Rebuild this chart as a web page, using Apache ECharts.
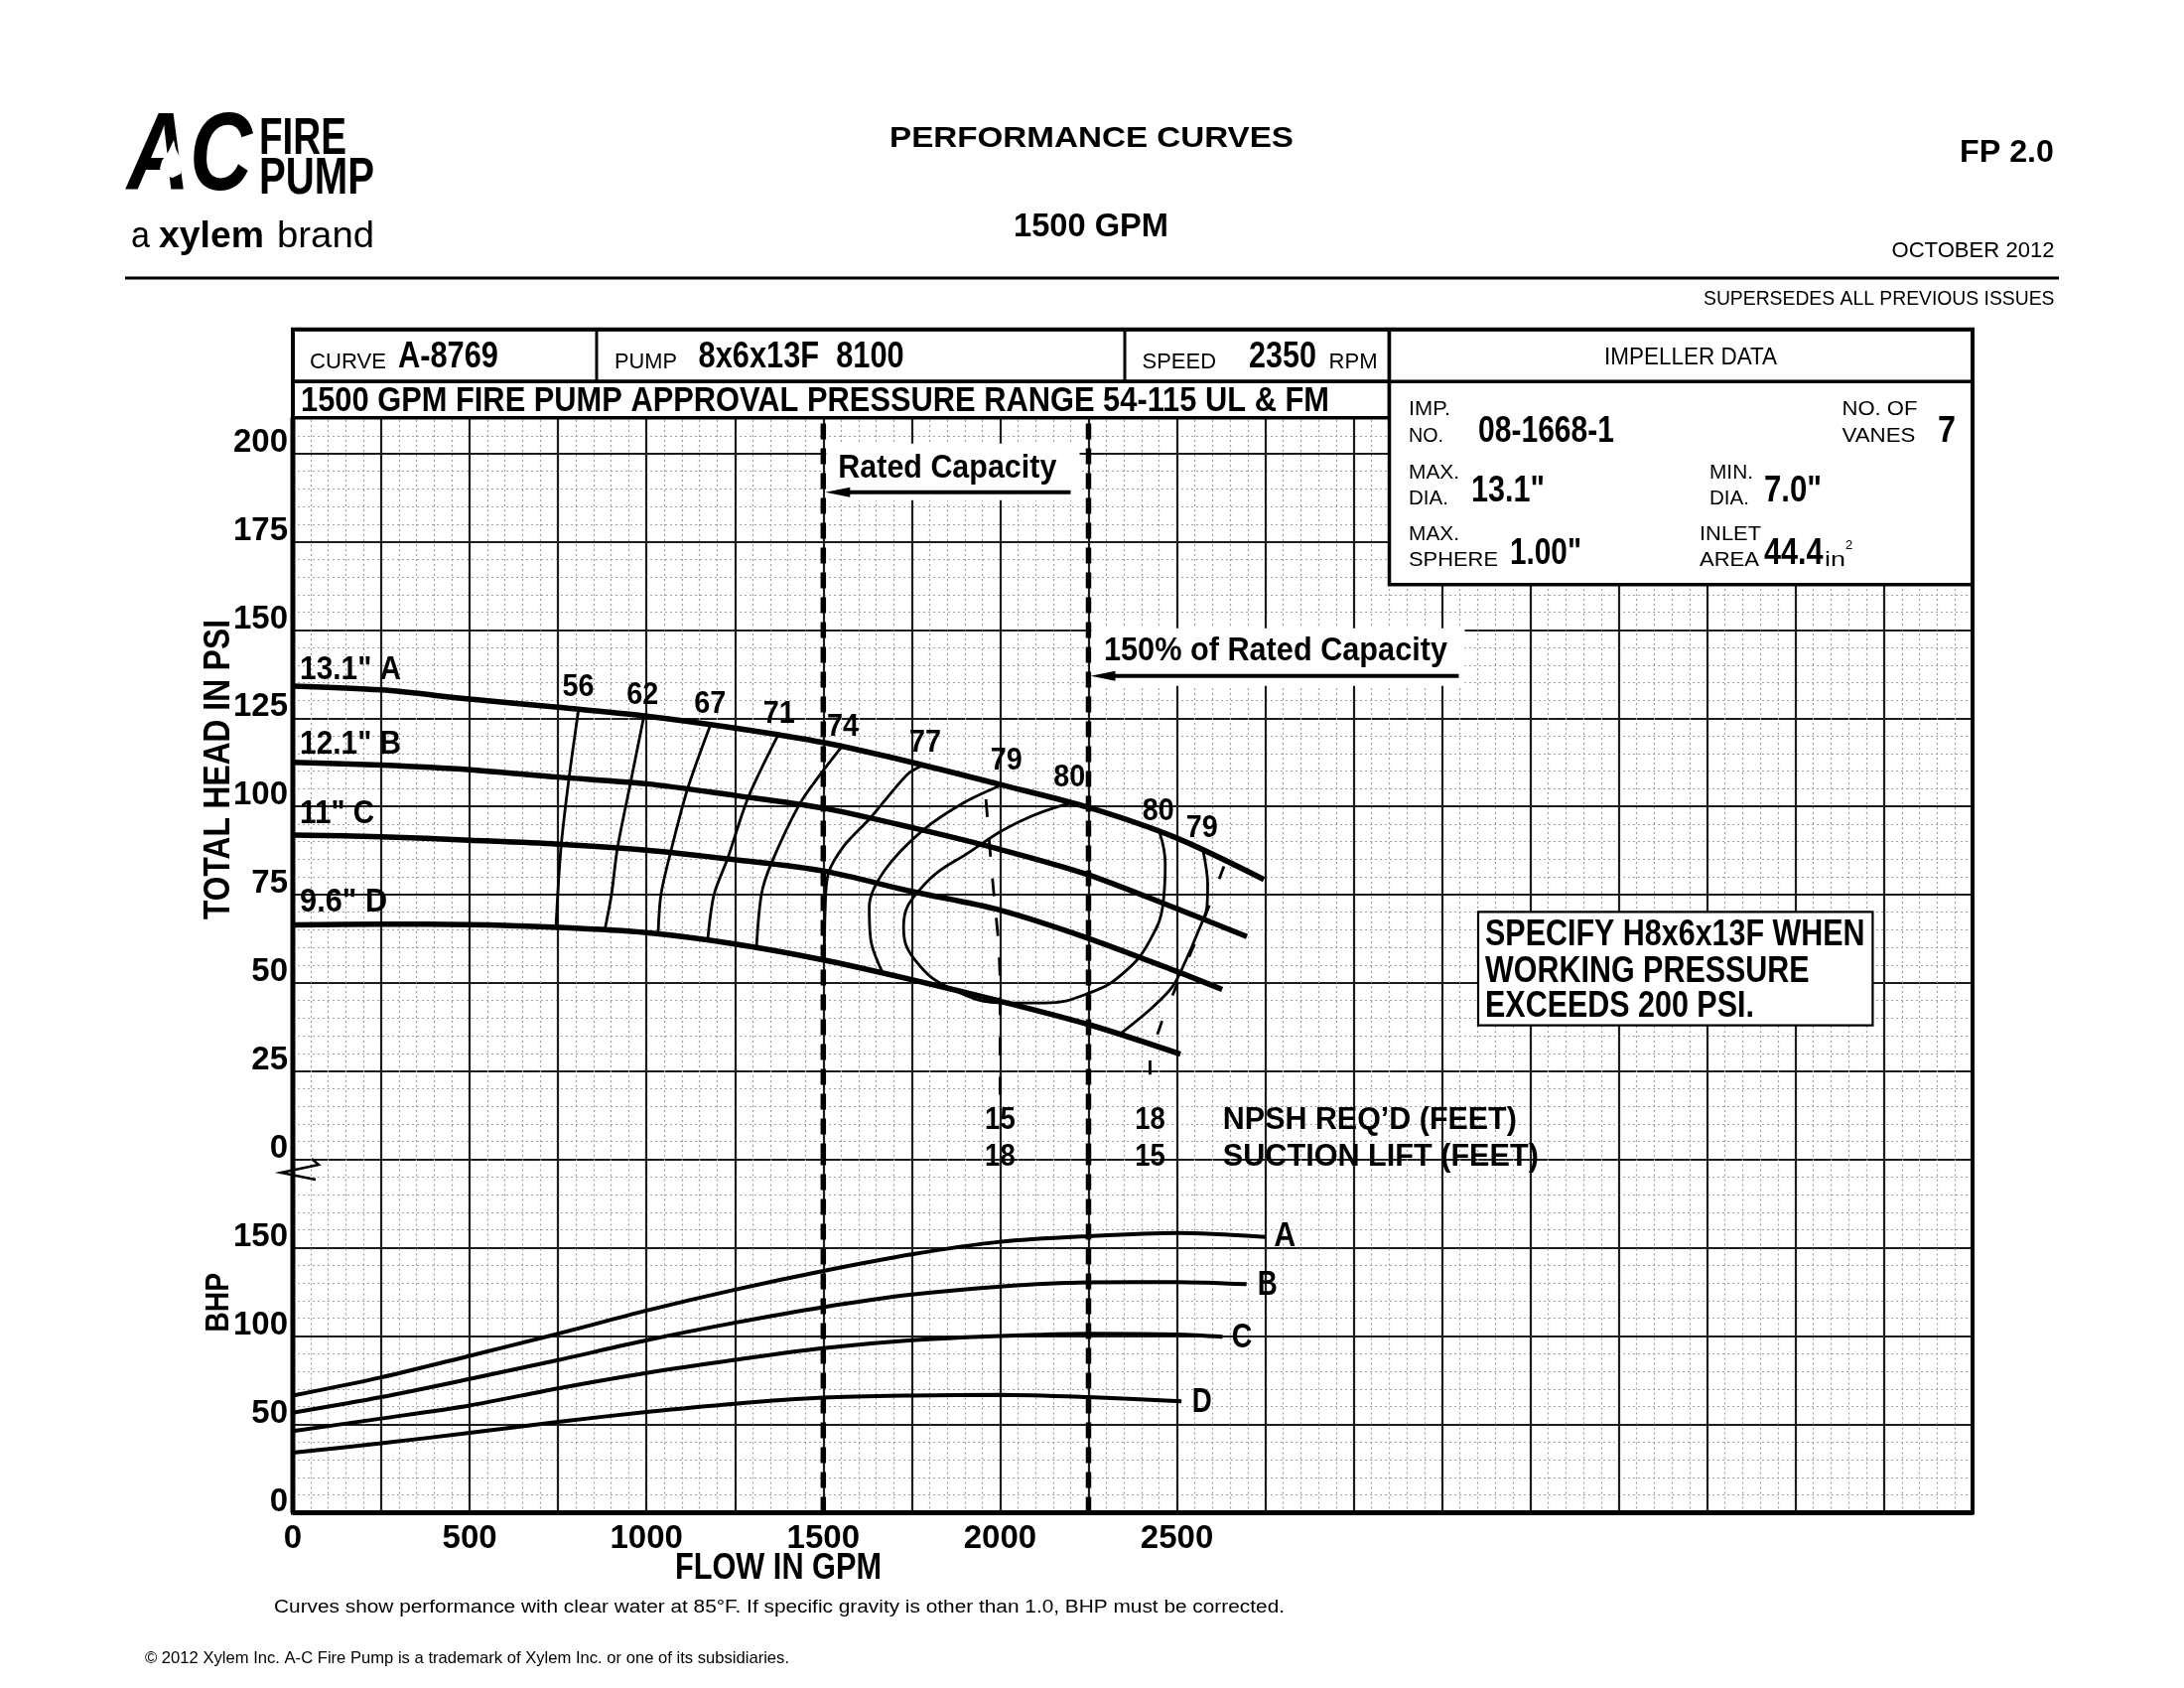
<!DOCTYPE html>
<html><head><meta charset="utf-8">
<script src="https://cdn.jsdelivr.net/npm/echarts@6/dist/echarts.min.js"></script>
<style>html,body{margin:0;padding:0;background:#fff}#c{width:2200px;height:1700px}</style>
</head><body><div id="c"></div>
<script>
// ---------------- data ----------------
const flowLabels = [0, 500, 1000, 1500, 2000, 2500];
const headLabels = [0, 25, 50, 75, 100, 125, 150, 175, 200];
const bhpLabels = [0, 50, 100, 150];

// total head (psi) vs flow (gpm) for impeller diameters
const headA = [[0,134.1],[250,133.0],[500,130.4],[750,128.1],[1000,125.6],[1250,122.2],[1500,118.1],[1750,112.5],[2000,106.2],[2250,99.7],[2500,91.0],[2746,79.3]];
const headB = [[0,112.5],[250,111.7],[500,110.4],[750,108.3],[1000,106.4],[1250,103.1],[1500,99.5],[1750,94.0],[2000,87.8],[2250,80.6],[2500,71.0],[2698,63.1]];
const headC = [[0,91.9],[250,91.4],[500,90.4],[750,89.3],[1000,87.6],[1250,84.9],[1500,81.7],[1750,75.9],[2000,70.6],[2250,62.6],[2500,53.2],[2628,48.1]];
const headD = [[0,66.4],[250,66.6],[500,66.5],[750,65.7],[1000,64.2],[1250,61.0],[1500,56.5],[1750,50.9],[2000,44.8],[2250,38.2],[2510,29.8]];

// iso-efficiency lines (gpm, psi)
const eff56 = [[808,127.5],[781,108.1],[759,89.2],[749,75],[744,65.7]];
const eff62 = [[993,125.7],[955,106.7],[918,88.2],[901,75],[882,64.9]];
const eff67 = [[1181,123.1],[1116,104.9],[1068,86.9],[1041,75],[1033,63.8]];
const eff71 = [[1372,120.2],[1288,102.6],[1229,85.1],[1191,75],[1173,62.0]];
const eff74 = [[1552,116.9],[1491,109],[1432,100.5],[1352,83.6],[1325,75],[1311,59.9]];
const eff77 = [[1783,111.7],[1737,109],[1632,96.6],[1560,89],[1514,80.9],[1505,70],[1503,56.7]];
const eff79L = [[2005,106.1],[1898,101.1],[1780,93.1],[1673,81.8],[1630,71.5],[1636,61.2],[1668,52.8]];
const eff80 = [[2200,101.0],[2059,95.9],[1920,87.5],[1780,77.2],[1727,65.9],[1759,56.5],[1866,48.1],[2017,44.3],[2124,44.3],[2252,47.1],[2349,52.8],[2424,62.1],[2462,73.4],[2467,83.7],[2451,92.6]];
const eff79R = [[2574,87.5],[2587,78.1],[2585,71.5],[2558,64.0],[2526,56.5],[2488,49.0],[2424,42.4],[2338,35.4]];

// NPSH required dashed lines
const npsh15 = [[1960,102],[1973,85.6],[1984,73.4],[1995,62],[2000,50],[2000,18]];
const npsh18 = [[2633,83],[2553,61.8],[2494,48],[2461,40],[2440,34],[2424,30],[2424,18]];
const npshLabels = [[2000,'15','18'],[2424,'18','15']];

// brake horsepower vs flow
const bhpA = [[0,66.3],[250,76.6],[500,88.8],[750,101.3],[1000,114.4],[1250,126.2],[1500,136.8],[1750,146.2],[2000,153.3],[2250,156.5],[2500,158.3],[2750,156.1]];
const bhpB = [[0,56.6],[250,65.4],[500,75.7],[750,86.4],[1000,97.6],[1250,107.5],[1500,116.3],[1750,123.4],[2000,128.0],[2250,130.3],[2500,130.5],[2697,129.3]];
const bhpC = [[0,46.2],[250,53.3],[500,60.7],[750,70.4],[1000,79.1],[1250,86.5],[1500,93.1],[1750,97.6],[2000,100.0],[2250,101.3],[2500,100.9],[2629,99.6]];
const bhpD = [[0,34.0],[250,39.3],[500,45.2],[750,51.4],[1000,57.0],[1250,61.7],[1500,65.1],[1750,66.3],[2000,66.7],[2250,65.4],[2513,63.1]];

const ratedFlow = 1500, flow150 = 2250;

// label anchors in data coordinates
const effLabels = [['56',807,133.8],['62',989,131.5],['67',1180,129],['71',1375,126.2],['74',1555,122.4],['77',1788,118],['79',2018,112.8],['80',2196,108.1],['80',2447,98.5],['79',2571,93.6]];
const headCurveLabels = [['13.1" A',20,138.6,102],['12.1" B',20,117.5,102],['11" C',20,97.8,75],['9.6" D',20,72.7,88]];
const bhpCurveLabels = [['A',2774,156,22],['B',2728,129,20],['C',2655,99,20.5],['D',2543,62.6,20]];

// ---------------- fonts ----------------
const mctx = document.createElement('canvas').getContext('2d');
function mw(t, f){ mctx.font = f; return mctx.measureText(t).width; }
const hasNarrow = mw('0000 ABCD','bold 40px "Liberation Sans Narrow", monospace') !== mw('0000 ABCD','bold 40px monospace');
const SANS = '"Liberation Sans", Arial, Helvetica, sans-serif';
const NARROW = hasNarrow ? '"Liberation Sans Narrow", "Liberation Sans", sans-serif' : SANS;
const TICKSIZE = hasNarrow ? 35 : 33;

function T(str, x, y, o) {
  o = o || {};
  const size = o.size || 30, weight = o.bold ? 'bold' : 'normal', fs = o.italic ? 'italic' : 'normal';
  const fam = o.fam || (o.bold ? NARROW : SANS);
  let sx = 1;
  if (o.w) sx = o.w / mw(str, fs + ' ' + weight + ' ' + size + 'px ' + fam);
  const al = o.align || 'left', va = o.va || 'middle';
  return {type:'text', x:x, y:y, rotation:o.rot || 0, scaleX:sx, z:120, silent:true,
    style:{text:str, x:0, y:0, fill:'#000', fontSize:size, fontWeight:weight, fontStyle:fs, fontFamily:fam,
      align:al, verticalAlign:va, textAlign:al, textVerticalAlign:va}};
}
function R(x, y, w, h, lw, fill) {
  return {type:'rect', z:110, silent:true, shape:{x:x, y:y, width:w, height:h},
    style:{fill:fill || 'none', stroke: lw ? '#000' : 'none', lineWidth: lw || 0}};
}
function L(x1, y1, x2, y2, lw) {
  return {type:'line', z:115, silent:true, shape:{x1:x1, y1:y1, x2:x2, y2:y2}, style:{stroke:'#000', lineWidth:lw}};
}

// ---------------- chart ----------------
const chart = echarts.init(document.getElementById('c'), null, {renderer:'canvas'});

const X0 = 295, XW = 1692;
const gridLine = {show:true, lineStyle:{color:'#1c1c1c', width:2.2}};
const minorLine = {show:true, lineStyle:{color:'#a0a0a0', width:1.2, type:[2,3]}};
const tickFont = {fontSize:TICKSIZE, fontWeight:'bold', fontFamily:NARROW, color:'#000'};

function xAx(gi, showLabel) {
  return {type:'value', gridIndex:gi, min:0, max:4750, interval:250,
    axisLine:{show:false}, axisTick:{show:false},
    splitLine:gridLine, minorTick:{show:false, splitNumber:5}, minorSplitLine:minorLine,
    axisLabel: showLabel ? Object.assign({show:true, margin:10,
      formatter: v => flowLabels.indexOf(v) >= 0 ? String(v) : ''}, tickFont) : {show:false}};
}
function yAx(gi, max, interval, labels) {
  return {type:'value', gridIndex:gi, min:0, max:max, interval:interval,
    axisLine:{show:false}, axisTick:{show:false},
    splitLine:gridLine, minorTick:{show:false, splitNumber:5}, minorSplitLine:minorLine,
    axisLabel: Object.assign({show:true, margin:5, verticalAlign:'bottom', lineHeight:22,
      showMaxLabel:false,
      formatter: v => labels.indexOf(v) >= 0 ? String(v) : ''}, tickFont)};
}

function ln(data, gi, w, opt) {
  opt = opt || {};
  return {type:'line', xAxisIndex:gi, yAxisIndex:gi, data:data, showSymbol:false, symbol:'none',
    smooth: opt.smooth === undefined ? 0.3 : opt.smooth, silent:true, z: opt.z || 5,
    lineStyle:{color:'#000', width:w, type: opt.type || 'solid', cap:'butt'}};
}

const series = [
  ln(headA,0,5.5), ln(headB,0,5.5), ln(headC,0,5.5), ln(headD,0,5.5),
  ln(eff56,0,2.8), ln(eff62,0,2.8), ln(eff67,0,2.8), ln(eff71,0,2.8), ln(eff74,0,2.8),
  ln(eff77,0,2.8), ln(eff79L,0,2.8), ln(eff80,0,2.8,{smooth:0.45}), ln(eff79R,0,2.8),
  ln(npsh15,0,2.8,{type:[18,22],smooth:0.2}), ln(npsh18,0,2.8,{type:[14,28],smooth:0.2}),
  ln([[ratedFlow,0],[ratedFlow,210]],0,5.5,{type:[16,9],smooth:false,z:6}),
  ln([[flow150,0],[flow150,210]],0,5.5,{type:[16,9],smooth:false,z:6}),
  ln([[ratedFlow,0],[ratedFlow,200]],1,5.5,{type:[16,9],smooth:false,z:6}),
  ln([[flow150,0],[flow150,200]],1,5.5,{type:[16,9],smooth:false,z:6}),
  ln(bhpA,1,4), ln(bhpB,1,4), ln(bhpC,1,4), ln(bhpD,1,4)
];

chart.setOption({
  animation:false,
  backgroundColor:'#fff',
  grid:[
    {left:X0, top:367.9, width:XW, height:799.6, outerBoundsMode:'none', containLabel:false},
    {left:X0, top:1167.5, width:XW, height:356, outerBoundsMode:'none', containLabel:false}
  ],
  xAxis:[xAx(0,false), xAx(1,true)],
  yAxis:[yAx(0,225,25,headLabels), yAx(1,200,50,bhpLabels)],
  series:series
});

// ---------------- annotations ----------------
const px = (g, p) => chart.convertToPixel({gridIndex:g}, p);
const G = [];

// page header
G.push(T('AC', 128, 160, {size:112, bold:true, italic:true, fam:SANS, w:126}));
G.push({type:'polygon', z:125, silent:true, shape:{points:[[175,141],[170,152],[163,162],[161,170],[165,177],[174,179],[182,175],[184,167],[181,158],[177,150]]}, style:{fill:'#fff'}});
G.push(T('FIRE', 261, 140.3, {size:52, bold:true, w:88}));
G.push(T('PUMP', 261, 181, {size:52, bold:true, w:116}));
G.push(T('a', 132, 239.5, {size:36, fam:SANS, w:19}));
G.push(T('xylem', 160, 239.5, {size:36, bold:true, fam:SANS, w:106}));
G.push(T('brand', 279, 239.5, {size:36, fam:SANS, w:98}));
G.push(T('PERFORMANCE CURVES', 1099.5, 140, {size:30, bold:true, fam:SANS, w:407, align:'center'}));
G.push(T('1500 GPM', 1099, 228.7, {size:33, bold:true, fam:SANS, w:156, align:'center'}));
G.push(T('FP 2.0', 2069, 154.5, {size:31, bold:true, fam:SANS, w:95, align:'right'}));
G.push(T('OCTOBER 2012', 2069.5, 252.5, {size:22, w:164, align:'right'}));
G.push(L(126, 280, 2074, 280, 3));
G.push(T('SUPERSEDES ALL PREVIOUS ISSUES', 2069.5, 301, {size:21, w:353.5, align:'right'}));

// chart header boxes
G.push(R(X0, 331.7, 1104.5, 52.6, 3.5, '#fff'));
G.push(R(X0, 384.3, 1104.5, 36.4, 3.5, '#fff'));
G.push(R(1399.5, 331.7, 587.5, 257, 3.5, '#fff'));
G.push(L(1399.5, 384.3, 1987, 384.3, 3.5));
G.push(L(601, 331.7, 601, 384.3, 3));
G.push(L(1133, 331.7, 1133, 384.3, 3));
G.push(T('CURVE', 312, 365, {size:22, w:77}));
G.push(T('A-8769', 401, 360, {size:36, bold:true, w:101}));
G.push(T('PUMP', 619, 365, {size:22, w:63}));
G.push(T('8x6x13F  8100', 703.6, 360, {size:36, bold:true, w:207}));
G.push(T('SPEED', 1150.5, 365, {size:22, w:74.5}));
G.push(T('2350', 1258, 360, {size:36, bold:true, w:68}));
G.push(T('RPM', 1338.5, 365, {size:22, w:49}));
G.push(T('IMPELLER DATA', 1703, 360.7, {size:23, w:174, align:'center'}));
G.push(T('1500 GPM FIRE PUMP APPROVAL PRESSURE RANGE 54-115 UL & FM', 303, 404, {size:35, bold:true, w:1036}));
// impeller data
G.push(T('IMP.', 1419, 412.5, {size:21, w:42}));
G.push(T('NO.', 1419, 439.5, {size:21, w:35}));
G.push(T('08-1668-1', 1489, 435, {size:36, bold:true, w:137}));
G.push(T('NO. OF', 1855.5, 412.5, {size:21, w:76}));
G.push(T('VANES', 1855.5, 439.5, {size:21, w:74}));
G.push(T('7', 1952, 435, {size:36, bold:true, w:18}));
G.push(T('MAX.', 1419, 476, {size:21, w:51}));
G.push(T('DIA.', 1419, 502.5, {size:21, w:40}));
G.push(T('13.1"', 1482, 495, {size:36, bold:true, w:74}));
G.push(T('MIN.', 1722, 476, {size:21, w:44}));
G.push(T('DIA.', 1722, 502.5, {size:21, w:40}));
G.push(T('7.0"', 1777, 495, {size:36, bold:true, w:58}));
G.push(T('MAX.', 1419, 538, {size:21, w:51}));
G.push(T('SPHERE', 1419, 564, {size:21, w:90}));
G.push(T('1.00"', 1521, 557.6, {size:36, bold:true, w:72}));
G.push(T('INLET', 1712, 538, {size:21, w:62}));
G.push(T('AREA', 1712, 564, {size:21, w:60}));
G.push(T('44.4', 1777, 557.6, {size:36, bold:true, w:59.6}));
G.push(T('in', 1838, 564, {size:20, w:21}));
G.push(T('2', 1859, 549, {size:13}));

// outer plot border
G.push(R(X0, 331.7, XW, 1191.8, 4));
G.push(L(X0, 1523.5, X0 + XW, 1523.5, 5));
G.push(L(X0, 420.7, X0, 1523.5, 5));
// axis break mark
G.push({type:'polyline', z:115, silent:true, shape:{points:[[314,1167],[321,1173],[283,1181],[318,1188]]}, style:{stroke:'#000', lineWidth:2.5, fill:'none'}});

// rated capacity annotation
const rc = px(0, [ratedFlow, 189]);
const rc2 = px(0, [flow150, 189]);
G.push(R(rc[0] + 3, rc[1] - 49, rc2[0] - rc[0] - 12, 57, 0, '#fff'));
G.push(T('Rated Capacity', rc[0] + 15, rc[1] - 24, {size:33, bold:true, w:220}));
G.push(L(rc[0] + 20, rc[1], rc2[0] - 18, rc[1], 4));
G.push({type:'polygon', z:116, silent:true, shape:{points:[[rc[0] + 2, rc[1]],[rc[0] + 27, rc[1] - 5],[rc[0] + 27, rc[1] + 5]]}, style:{fill:'#000'}});
const c15 = px(0, [flow150, 137]);
G.push(R(c15[0] + 3, c15[1] - 48, 376, 58, 0, '#fff'));
G.push(T('150% of Rated Capacity', c15[0] + 15.5, c15[1] - 25, {size:33, bold:true, w:346}));
G.push(L(c15[0] + 20, c15[1], c15[0] + 373, c15[1], 4));
G.push({type:'polygon', z:116, silent:true, shape:{points:[[c15[0] + 2, c15[1]],[c15[0] + 27, c15[1] - 5],[c15[0] + 27, c15[1] + 5]]}, style:{fill:'#000'}});

// curve labels
headCurveLabels.forEach(l => { const p = px(0, [l[1], l[2]]); G.push(T(l[0], p[0], p[1], {size:33, bold:true, w:l[3]})); });
effLabels.forEach(l => { const p = px(0, [l[1], l[2]]); G.push(T(l[0], p[0], p[1], {size:31, bold:true, w:32, align:'center'})); });
bhpCurveLabels.forEach(l => { const p = px(1, [l[1], l[2]]); G.push(T(l[0], p[0], p[1], {size:35, bold:true, w:l[3]})); });
npshLabels.forEach(l => {
  const p = px(0, [l[0], 11]);
  const q = px(0, [l[0], 0.7]);
  G.push(T(l[1], p[0], p[1], {size:32, bold:true, w:30.6, align:'center'}));
  G.push(T(l[2], q[0], q[1], {size:32, bold:true, w:30.6, align:'center'}));
});
const nl = px(0, [2630, 11]);
const nl2 = px(0, [2630, 0.7]);
G.push(T('NPSH REQ\u2019D (FEET)', nl[0], nl[1], {size:32, bold:true, w:296}));
G.push(T('SUCTION LIFT (FEET)', nl2[0], nl2[1], {size:32, bold:true, w:318}));

// specification note
G.push(R(1489, 918.3, 397.4, 114.4, 2.2, '#fff'));
(function(){
  const fam = NARROW, s = 37;
  const sx = 382.6 / mw('SPECIFY H8x6x13F WHEN', 'normal bold ' + s + 'px ' + fam);
  [['SPECIFY H8x6x13F WHEN', 941.7], ['WORKING PRESSURE', 978.3], ['EXCEEDS 200 PSI.', 1013.3]].forEach(r => {
    const t = T(r[0], 1496, r[1], {size:s, bold:true}); t.scaleX = sx; G.push(t);
  });
})();

// axis titles & footer
G.push(T('TOTAL HEAD IN PSI', 221, 775, {size:36, bold:true, w:302, align:'center', rot:Math.PI / 2}));
G.push(T('BHP', 221, 1311.7, {size:34, bold:true, w:60, align:'center', rot:Math.PI / 2}));
G.push(T('FLOW IN GPM', 784, 1580, {size:36, bold:true, w:208, align:'center'}));
G.push(T('Curves show performance with clear water at 85\u00B0F. If specific gravity is other than 1.0, BHP must be corrected.', 276, 1619, {size:18, w:1018}));
G.push(T('\u00A9 2012 Xylem Inc. A-C Fire Pump is a trademark of Xylem Inc. or one of its subsidiaries.', 146, 1670, {size:17, w:649}));

chart.setOption({graphic:{elements:G}});
</script>
</body></html>
